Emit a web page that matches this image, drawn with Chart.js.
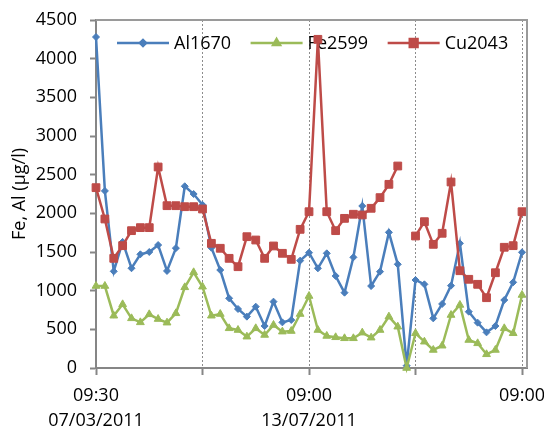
<!DOCTYPE html>
<html><head><meta charset="utf-8">
<script src="https://cdn.jsdelivr.net/npm/chart.js@4/dist/chart.umd.min.js"></script>
<style>html,body{margin:0;padding:0;background:#fff}</style>
</head><body>
<canvas id="c" width="544" height="434"></canvas>
<script>
// Sample values (µg/l), one per sampling slot
const al1670 = [4280,2290,1250,1630,1290,1470,1500,1590,1255,1550,2350,2250,2110,1555,1267,901,763,664,793,543,858,590,621,1388,1491,1289,1483,1190,974,1431,2095,1060,1246,1754,1341,30,1138,1082,642,828,1065,1612,728,586,461,543,879,1108,1496];
const fe2599 = [1060,1060,676,823,642,590,694,633,586,707,1043,1237,1051,676,698,513,491,405,513,427,556,470,478,698,931,491,414,397,384,384,457,392,491,664,534,0,449,340,233,288,685,815,362,319,177,233,513,449,944];
const cu2043 = [2332,1927,1418,1582,1776,1815,1815,2599,2099,2099,2086,2086,2056,1612,1548,1418,1310,1698,1655,1418,1578,1483,1405,1793,2021,4250,2021,1776,1935,1988,1979,2065,2203,2375,2612,null,1707,1892,1599,1742,2405,1258,1147,1082,909,1232,1561,1582,2021];
const seriesNames = ['Al1670','Fe2599','Cu2043'];
const tickPositions = [0,12,24,36,48];
const labelPositions = [0,24,48];
const xTickLabels = [['09:30','07/03/2011'],['09:00','13/07/2011'],['09:00']];
const yTitle = 'Fe, Al (µg/l)';

const FONT = 'Open Sans';
const toPts = arr => arr.map((v,i)=>({x:i,y:v}));

const legendPlugin = {
  id:'customLegend',
  beforeDatasetsDraw(chart){
    const ctx = chart.ctx;
    ctx.save();
    ctx.font = '18px "' + FONT + '"';
    ctx.textBaseline = 'middle';
    let x = 117; const y = 43;
    chart.data.datasets.forEach(ds=>{
      ctx.strokeStyle = ds.borderColor; ctx.lineWidth = 2.5;
      ctx.beginPath(); ctx.moveTo(x,y); ctx.lineTo(x+52,y); ctx.stroke();
      ctx.fillStyle = ds.pointBackgroundColor; ctx.strokeStyle = ds.pointBorderColor;
      Chart.helpers.drawPoint(ctx,{pointStyle:ds.pointStyle,radius:ds.legendRadius,rotation:0,borderWidth:1},x+26,y);
      ctx.fillStyle = '#000';
      ctx.fillText(ds.label, x+57, y+1);
      x += 57 + ctx.measureText(ds.label).width + 19.5;
    });
    ctx.restore();
  },
  afterDraw(chart){
    const {ctx, chartArea:a} = chart;
    ctx.save(); ctx.strokeStyle='#9a9a9a'; ctx.lineWidth=2;
    ctx.beginPath(); ctx.moveTo(a.left, a.top); ctx.lineTo(a.right, a.top); ctx.lineTo(a.right, a.bottom); ctx.stroke();
    ctx.restore();
  }
};

const mk = (name, data, color, style, r, lr, order) => ({
  label:name, data:toPts(data), borderColor:color, backgroundColor:color,
  pointBackgroundColor:color, pointBorderColor:color, pointStyle:style, pointRadius:r,
  pointBorderWidth:1, borderWidth:2.5, tension:0, spanGaps:false, clip:10, order:order, legendRadius:lr
});

new Chart(document.getElementById('c'), {
  type:'line',
  data:{datasets:[
    mk(seriesNames[0], al1670, '#4A7EBB', 'rectRot', 3.5, 3, 2),
    mk(seriesNames[1], fe2599, '#9BBB59', 'triangle', 4.5, 4, 1),
    mk(seriesNames[2], cu2043, '#BE4B48', 'rect', 5.5, 5.5, 0)
  ]},
  options:{
    responsive:false, animation:false, devicePixelRatio:1,
    layout:{padding:{top:20,right:17,left:0,bottom:0}},
    plugins:{legend:{display:false}, tooltip:{enabled:false}},
    scales:{
      x:{type:'linear', min:0, max:48.56,
        afterBuildTicks:s=>{s.ticks = tickPositions.map(v=>({value:v}));},
        afterFit:s=>{s.height = 66; s.paddingLeft = 0; s.paddingRight = 0;},
        ticks:{autoSkip:false, maxRotation:0, minRotation:0, padding:8, color:'#000',
          font:{family:FONT,size:18,lineHeight:1.4},
          callback:(v)=>{const k = labelPositions.indexOf(v); return k>=0 ? xTickLabels[k] : '';}},
        grid:{display:true, drawOnChartArea:true, drawTicks:true, tickLength:7,
          color:c=>(c.tick && c.tick.value>0) ? '#8c8c8c' : 'rgba(0,0,0,0)',
          tickColor:'#868686', lineWidth:1, tickWidth:2},
        border:{display:true, color:'#868686', width:2, dash:[2,2]}
      },
      y:{min:0, max:4500,
        afterFit:s=>{s.width = 96; s.paddingTop = 0; s.paddingBottom = 0;},
        ticks:{stepSize:500, padding:13, color:'#000', font:{family:FONT,size:18}, callback:v=>String(v)},
        grid:{drawOnChartArea:false, drawTicks:true, tickLength:6, tickColor:'#868686', tickWidth:2},
        border:{display:true, color:'#868686', width:2},
        title:{display:true, text:yTitle, color:'#000', font:{family:FONT,size:18}, padding:{top:9,bottom:0}}
      }
    }
  },
  plugins:[legendPlugin]
});
</script>
</body></html>
